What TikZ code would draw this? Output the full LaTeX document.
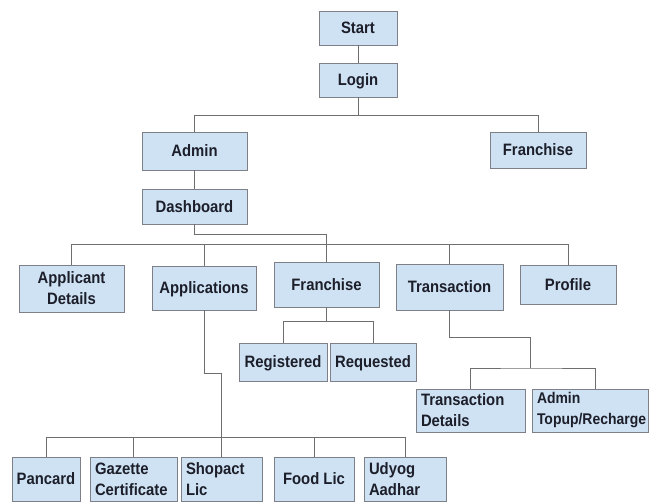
\documentclass[tikz,border=0pt]{standalone}
\usepackage{fontspec}
\setmainfont{Liberation Sans}[FakeStretch=0.9]
\usepackage{xcolor}
\usepackage{tikz}

\definecolor{boxfill}{RGB}{207,226,243}
\definecolor{boxline}{RGB}{125,128,135}
\definecolor{wire}{RGB}{110,110,110}
\definecolor{ink}{RGB}{28,30,42}

\begin{document}
\begin{tikzpicture}[x=1pt, y=-1pt,
  block/.style={rectangle, draw=boxline, fill=boxfill, line width=0.9pt, inner sep=0pt, text=ink, font=\bfseries\fontsize{16.5}{21}\selectfont},
  single/.style={block, text height=11.8pt, text depth=0pt},
  twoline/.style={block, align=center},
  leftline/.style={block, align=left, inner xsep=5pt},
  link/.style={draw=wire, line width=0.9pt}
]

\path[use as bounding box, fill=white] (0,0) rectangle (649,503);

% Start and Login
\node[single, minimum width=78pt, minimum height=34pt] (start) at (358,28) {Start};
\node[single, minimum width=78pt, minimum height=34pt] (login) at (358,80) {Login};

% Roles
\node[single, minimum width=105pt, minimum height=38pt] (admin) at (194.5,151) {Admin};
\node[single, minimum width=96pt, minimum height=36pt] (franchise) at (538,150) {Franchise};
\node[single, minimum width=105pt, minimum height=35pt] (dash) at (194.5,206.5) {Dashboard};

% Dashboard menu
\node[twoline, minimum width=105pt, minimum height=47pt] (appdet) at (71.5,288.5) {Applicant\\Details};
\node[single, minimum width=104pt, minimum height=44pt] (apps) at (204,288) {Applications};
\node[single, minimum width=105pt, minimum height=45pt] (fr2) at (326.5,284.5) {Franchise};
\node[single, minimum width=107pt, minimum height=46pt] (trans) at (449.5,287) {Transaction};
\node[single, minimum width=96pt, minimum height=39pt] (profile) at (568,284.5) {Profile};

% Franchise list
\node[single, minimum width=88pt, minimum height=38pt] (reg) at (283,362) {Registered};
\node[single, minimum width=86pt, minimum height=38pt] (req) at (373,362) {Requested};

% Transaction list
\node[leftline, text width=99pt, minimum height=43pt] (tdet) at (470.5,410.5) {Transaction\\Details};
\node[leftline, text width=106pt, minimum height=43pt, font=\bfseries\fontsize{15.5}{21}\selectfont] (topup) at (590,410.5) {Admin\\Topup/Recharge};

% Application types
\node[single, minimum width=68pt, minimum height=44pt] (pancard) at (46,479) {Pancard};
\node[leftline, text width=77pt, minimum height=44pt] (gazette) at (133.5,479) {Gazette\\Certificate};
\node[leftline, text width=71pt, minimum height=44pt] (shopact) at (221.5,479) {Shopact\\Lic};
\node[single, minimum width=80pt, minimum height=44pt] (foodlic) at (314,479) {Food Lic};
\node[leftline, text width=72pt, minimum height=44pt] (udyog) at (405,479) {Udyog\\Aadhar};

% Bus levels
\coordinate (bus1) at (0,115);
\coordinate (bus2) at (0,244);
\coordinate (bus3) at (0,321);
\coordinate (bend) at (530,337);
\coordinate (bus4) at (530,368);
\coordinate (jog) at (221,373);
\coordinate (bus5) at (221,437);

% Connectors
\draw[link] (start) -- (login);
\draw[link] (login.south) -- (login.south |- bus1);
\draw[link] (admin.north) |- (bus1 -| franchise.north) -- (franchise.north);
\draw[link] (admin) -- (dash);
\draw[link] (dash.south) -- ++(0,10) -| (fr2.north);
\draw[link] (appdet.north) |- (bus2 -| profile.north) -- (profile.north);
\foreach \n in {apps,trans}
  \draw[link] (\n.north) -- (\n.north |- bus2);
\draw[link] (fr2.south) -- (fr2.south |- bus3);
\draw[link] (reg.north) |- (bus3 -| req.north) -- (req.north);
\draw[link] (trans.south) |- (bend) -- (bus4);
\draw[link] (tdet.north) |- (bus4) -| ([xshift=5pt]topup.north);
\draw[link] (apps.south) |- (jog) -- (bus5);
\draw[link] (pancard.north) |- (bus5 -| udyog.north) -- (udyog.north);
\foreach \n in {gazette,foodlic}
  \draw[link] (\n.north) -- (\n.north |- bus5);
\draw[link] (bus5) -- (bus5 |- shopact.north);

\end{tikzpicture}
\end{document}
